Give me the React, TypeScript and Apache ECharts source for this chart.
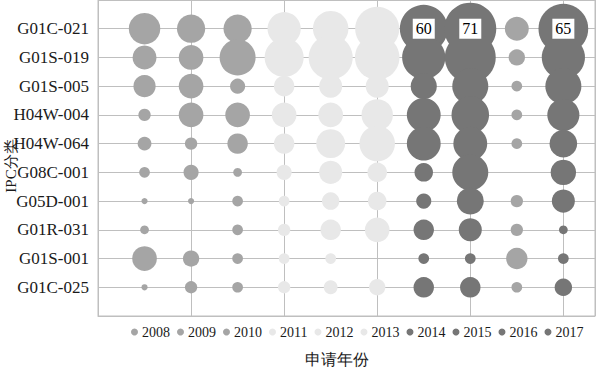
import React, { useEffect, useRef } from "react";
import * as echarts from "echarts";

const categories = [
  "G01C-021",
  "G01S-019",
  "G01S-005",
  "H04W-004",
  "H04W-064",
  "G08C-001",
  "G05D-001",
  "G01R-031",
  "G01S-001",
  "G01C-025",
];

const years = ["2008", "2009", "2010", "2011", "2012", "2013", "2014", "2015", "2016", "2017"];

// values per year, in category order (top to bottom)
const v2008 = [26, 15, 13, 4, 5, 3, 1, 2, 16, 1];
const v2009 = [21, 16, 16, 16, 4, 6, 1, 0, 7, 4];
const v2010 = [21, 34, 6, 16, 11, 2, 3, 3, 3, 3];
const v2011 = [29, 40, 11, 16, 11, 6, 3, 4, 3, 4];
const v2012 = [33, 51, 14, 16, 22, 14, 8, 11, 3, 5];
const v2013 = [51, 52, 14, 26, 33, 10, 9, 16, 0, 7];
const v2014 = [60, 49, 18, 30, 30, 9, 6, 11, 3, 11];
const v2015 = [71, 68, 34, 37, 30, 34, 19, 14, 3, 11];
const v2016 = [15, 7, 3, 3, 3, 0, 4, 4, 12, 3];
const v2017 = [65, 49, 34, 27, 20, 17, 14, 2, 3, 8];

const yearValues = [v2008, v2009, v2010, v2011, v2012, v2013, v2014, v2015, v2016, v2017];

// data points that carry a value label
const labelled = [
  ["2014", "G01C-021"],
  ["2015", "G01C-021"],
  ["2017", "G01C-021"],
];

const MID = "#a5a5a5";
const LIGHT = "#e8e8e8";
const DARK = "#767676";
const seriesColors = [MID, MID, MID, LIGHT, LIGHT, LIGHT, DARK, DARK, MID, DARK];
const legendColors = [MID, MID, MID, LIGHT, LIGHT, LIGHT, DARK, DARK, DARK, DARK];

const SERIF = "Liberation Serif";

export default function App() {
  const ref = useRef<HTMLDivElement>(null);

  useEffect(() => {
    if (!ref.current) return;
    const chart = echarts.init(ref.current, undefined, { renderer: "svg" });
    const n = categories.length;
    let maxV = 0;
    yearValues.forEach((arr) => arr.forEach((v) => (maxV = Math.max(maxV, v))));
    const maxD = 52;

    const series = years.map((yr, yi) => ({
      name: yr,
      type: "scatter",
      silent: true,
      itemStyle: { color: seriesColors[yi], opacity: 1 },
      symbolSize: (val: number[]) => maxD * Math.sqrt(val[2] / maxV),
      data: yearValues[yi]
        .map((v, ci) => {
          const isLab = labelled.some((l) => l[0] === yr && l[1] === categories[ci]);
          return {
            value: [yi + 1, n - ci, v],
            label: {
              show: isLab,
              position: "inside",
              formatter: (p: any) => String(p.value[2]),
              backgroundColor: "#ffffff",
              padding: [3, 3, 1, 3],
              color: "#000",
              fontSize: 16,
              fontFamily: SERIF,
            },
          };
        })
        .filter((d) => d.value[2] > 0),
    }));

    chart.setOption({
      animation: false,
      textStyle: { fontFamily: SERIF },
      grid: {
        left: 98,
        right: 1,
        top: 0,
        bottom: 52,
        show: true,
        borderColor: "#bfbfbf",
        borderWidth: 1,
      },
      xAxis: {
        type: "value",
        min: 0,
        max: 10.68,
        interval: 2,
        axisLabel: { show: false },
        axisTick: { show: false },
        axisLine: { show: true, lineStyle: { color: "#bfbfbf" } },
        splitLine: { show: true, lineStyle: { color: "#bfbfbf" } },
      },
      yAxis: {
        type: "value",
        min: 0,
        max: 11,
        interval: 1,
        axisTick: { show: false },
        axisLine: { show: false },
        splitLine: { show: true, lineStyle: { color: "#bfbfbf" } },
        axisLabel: {
          margin: 9,
          fontSize: 17,
          fontFamily: SERIF,
          color: "#1a1a1a",
          formatter: (v: number) => (v >= 1 && v <= n ? categories[n - v] : ""),
        },
      },
      legend: {
        left: 131,
        top: 325,
        padding: 0,
        itemGap: 7,
        itemWidth: 7,
        itemHeight: 7,
        icon: "circle",
        selectedMode: false,
        textStyle: { fontSize: 14, fontFamily: SERIF, color: "#1a1a1a", padding: [1, 0, 0, -1] },
        data: years.map((y, i) => ({ name: y, itemStyle: { color: legendColors[i] } })),
      },
      graphic: [
        {
          type: "text",
          x: 11,
          y: 166,
          rotation: Math.PI / 2,
          style: {
            text: "IPC分类",
            fontSize: 15,
            fontFamily: SERIF,
            fill: "#1a1a1a",
            textAlign: "center",
            textVerticalAlign: "middle",
          },
        },
        {
          type: "text",
          x: 337,
          y: 359,
          style: {
            text: "申请年份",
            fontSize: 16,
            fontFamily: SERIF,
            fill: "#1a1a1a",
            textAlign: "center",
            textVerticalAlign: "middle",
          },
        },
      ],
      series,
    });

    return () => chart.dispose();
  }, []);

  return <div ref={ref} style={{ width: 596, height: 368, position: "absolute", left: 0, top: 0 }} />;
}
